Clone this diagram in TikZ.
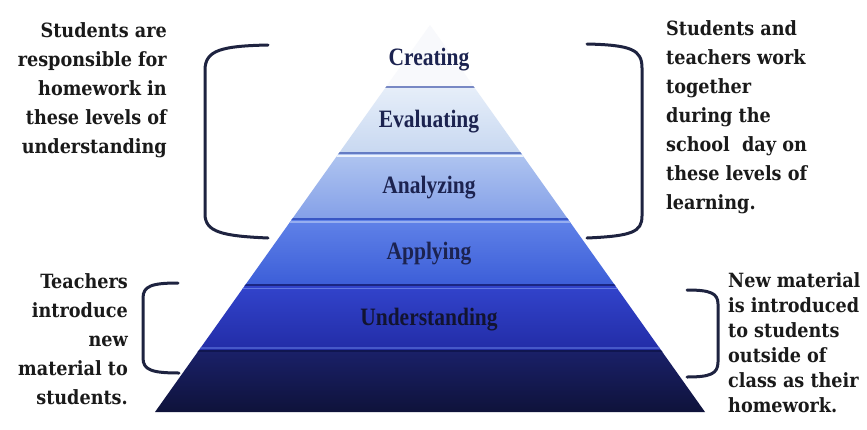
\documentclass[tikz,border=0pt]{standalone}
\usepackage{fontspec}
\setmainfont{Liberation Serif}
\newfontfamily\lvlfont{Liberation Serif}[FakeStretch=0.86]
\IfFontExistsTF{DejaVu Serif Condensed}
  {\newfontfamily\sidefont{DejaVu Serif Condensed}}
  {\newfontfamily\sidefont{DejaVu Serif}[FakeStretch=0.9]}
\definecolor{ink}{HTML}{1A1A1A}
\definecolor{lbl}{HTML}{1C2350}
\definecolor{brk}{HTML}{1E2340}
\definecolor{topband}{HTML}{F8F9FC}
\tikzset{
  sidetxt/.style={inner sep=0pt, text=ink, font={\sidefont\bfseries\fontsize{19.6}{29}\selectfont}},
  sidetxtb/.style={inner sep=0pt, text=ink, font={\sidefont\bfseries\fontsize{19.6}{25}\selectfont}},
  lvl/.style={inner sep=0pt, text=lbl, font={\lvlfont\bfseries\fontsize{25}{28}\selectfont}},
  bracket/.style={draw=brk, line width=3pt, line cap=round},
}
\begin{document}
\begin{tikzpicture}[x=1pt,y=-1pt]
\useasboundingbox (0,0) rectangle (867,429);
\fill[white] (0,0) rectangle (867,429);

% pyramid
\begin{scope}
\clip (430,25) -- (705,412) -- (155,412) -- cycle;
\fill[topband] (150,20) rectangle (710,87);
\shade[top color={rgb,255:red,230;green,238;blue,249}, bottom color={rgb,255:red,200;green,216;blue,241}] (150,87) rectangle (710,153);
\shade[top color={rgb,255:red,176;green,197;blue,240}, bottom color={rgb,255:red,132;green,160;blue,232}] (150,153) rectangle (710,219);
\shade[top color={rgb,255:red,96;green,130;blue,232}, bottom color={rgb,255:red,60;green,94;blue,216}] (150,219) rectangle (710,285);
\shade[top color={rgb,255:red,50;green,68;blue,204}, bottom color={rgb,255:red,34;green,44;blue,166}] (150,285) rectangle (710,351);
\shade[top color={rgb,255:red,26;green,32;blue,104}, bottom color={rgb,255:red,14;green,18;blue,56}] (150,351) rectangle (710,415);
% separators
\draw[line width=1.3pt, draw={rgb,255:red,120;green,136;blue,196}] (150,87) -- (710,87);
\draw[line width=1.6pt, draw={rgb,255:red,100;green,124;blue,196}] (150,153) -- (710,153);
\draw[line width=1.2pt, draw={rgb,255:red,236;green,242;blue,252}] (150,156) -- (710,156);
\draw[line width=1.6pt, draw={rgb,255:red,56;green,86;blue,196}] (150,219) -- (710,219);
\draw[line width=1.2pt, draw={rgb,255:red,150;green,174;blue,240}] (150,222) -- (710,222);
\draw[line width=1.8pt, draw={rgb,255:red,26;green,38;blue,130}] (150,285) -- (710,285);
\draw[line width=1.2pt, draw={rgb,255:red,96;green,120;blue,226}] (150,288.5) -- (710,288.5);
\draw[line width=1.8pt, draw={rgb,255:red,16;green,22;blue,80}] (150,351) -- (710,351);
\draw[line width=1.2pt, draw={rgb,255:red,70;green,88;blue,200}] (150,348) -- (710,348);
\end{scope}

% level labels
\node[lvl] (creating) at (429,60) {Creating};
\node[lvl] (evaluating) at (429,122) {Evaluating};
\node[lvl] (analyzing) at (429,188) {Analyzing};
\node[lvl] (applying) at (429,254) {Applying};
\node[lvl, text={rgb,255:red,18;green,20;blue,48}] (understanding) at (429,320) {Understanding};

% brackets
\draw[bracket] (268,45) .. controls (222,46) and (205,50) .. (205,70) -- (205,214) .. controls (205,232) and (222,236) .. (268,238);
\draw[bracket] (587,44) .. controls (632,45) and (642,50) .. (642,68) -- (642,216) .. controls (642,232) and (632,236) .. (587,238);
\draw[bracket] (178,283) .. controls (152,283) and (143,286) .. (143,298) -- (143,358) .. controls (143,370) and (152,373) .. (179,373);
\draw[bracket] (687,290) .. controls (710,290) and (718,293) .. (718,304) -- (718,362) .. controls (718,374) and (710,377) .. (687,377);

% side texts
\node[sidetxt, anchor=north east, align=right] (tl) at (167,22) {Students are\\responsible for\\homework in\\these levels of\\understanding};
\node[sidetxt, anchor=north west, align=left] (tr) at (666,20) {Students and\\teachers work\\together\\during the\\school~ day on\\these levels of\\learning.};
\node[sidetxt, anchor=north east, align=right] (ll) at (128,273) {Teachers\\introduce\\new\\material to\\students.};
\node[sidetxtb, anchor=north west, align=left] (lr) at (728,272) {New material\\is introduced\\to students\\outside of\\class as their\\homework.};
\end{tikzpicture}
\end{document}
